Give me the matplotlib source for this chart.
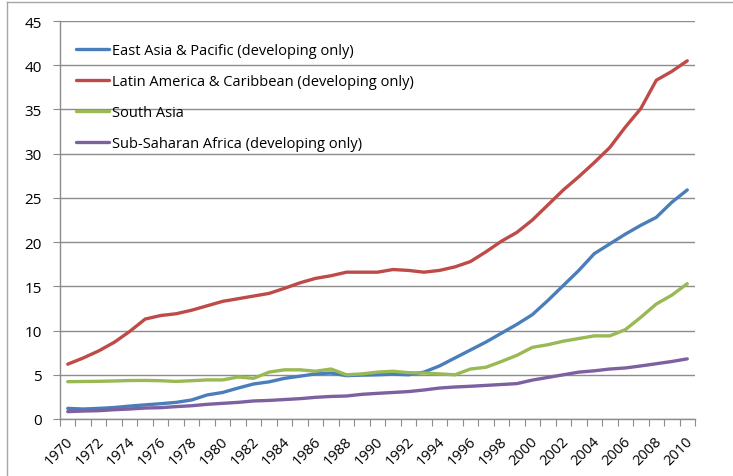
import numpy as np
import matplotlib.pyplot as plt
from matplotlib.lines import Line2D
import matplotlib.transforms as mtransforms

plt.rcParams['font.family'] = ['Open Sans', 'DejaVu Sans']

years = list(range(1970, 2011))

east_asia = [1.2, 1.13, 1.2, 1.3, 1.46, 1.6, 1.73, 1.88, 2.15, 2.72,
             3.0, 3.5, 3.96, 4.2, 4.6, 4.84, 5.1, 5.2, 4.9, 4.96,
             5.0, 5.07, 5.0, 5.3, 6.0, 6.9, 7.8, 8.7, 9.7, 10.7,
             11.8, 13.4, 15.1, 16.8, 18.7, 19.8, 20.9, 21.9, 22.8, 24.5,
             25.9]
latin_america = [6.2, 6.9, 7.7, 8.67, 9.9, 11.3, 11.7, 11.9, 12.3, 12.8,
                 13.3, 13.6, 13.9, 14.2, 14.78, 15.4, 15.9, 16.2, 16.6, 16.6,
                 16.6, 16.9, 16.8, 16.6, 16.8, 17.2, 17.8, 18.9, 20.1, 21.1,
                 22.5, 24.2, 25.9, 27.4, 29.0, 30.7, 33.0, 35.1, 38.3, 39.3,
                 40.5]
south_asia = [4.22, 4.24, 4.26, 4.3, 4.35, 4.36, 4.33, 4.25, 4.33, 4.42,
              4.42, 4.75, 4.6, 5.3, 5.56, 5.56, 5.4, 5.65, 5.0, 5.1,
              5.3, 5.4, 5.24, 5.2, 5.1, 5.0, 5.65, 5.85, 6.5, 7.2,
              8.1, 8.4, 8.8, 9.1, 9.4, 9.4, 10.1, 11.5, 13.0, 14.0,
              15.3]
ssa = [0.83, 0.9, 0.94, 1.05, 1.13, 1.24, 1.28, 1.4, 1.5, 1.66,
       1.77, 1.88, 2.04, 2.1, 2.2, 2.3, 2.45, 2.55, 2.6, 2.79,
       2.9, 3.0, 3.1, 3.28, 3.5, 3.62, 3.7, 3.8, 3.9, 4.0,
       4.4, 4.7, 5.0, 5.3, 5.45, 5.65, 5.77, 6.0, 6.25, 6.5,
       6.8]

series = [
    ("East Asia & Pacific (developing only)", east_asia, "#4A7EBB"),
    ("Latin America & Caribbean (developing only)", latin_america, "#BE4B48"),
    ("South Asia", south_asia, "#98B954"),
    ("Sub-Saharan Africa (developing only)", ssa, "#7D60A0"),
]

W, H = 733, 477
fig = plt.figure(figsize=(W / 100, H / 100), dpi=100)
ax = fig.add_axes([60 / W, (H - 420) / H, 635 / W, 398 / H])

x = np.arange(len(years))
for name, vals, col in series:
    ax.plot(x, vals, color=col, lw=2.4, label=name, solid_capstyle='round')

ax.set_xlim(-0.5, len(years) - 0.5)
ax.set_ylim(0, 45)
ax.set_yticks(range(0, 46, 5))
ax.grid(axis='y', color='#8C8C8C', lw=1)
ax.set_axisbelow(True)

for s in ['top', 'right']:
    ax.spines[s].set_visible(False)
for s in ['left', 'bottom']:
    ax.spines[s].set_color('#8C8C8C')
    ax.spines[s].set_linewidth(1)

ax.tick_params(axis='y', length=5, color='#8C8C8C', pad=8, labelsize=11)

# category axis: tick marks between years, rotated labels every 2 years
ax.set_xticks(np.arange(-0.5, len(years), 1))
ax.set_xticklabels([])
ax.tick_params(axis='x', length=5, color='#8C8C8C')
off = mtransforms.ScaledTranslation(3 / 100, -19.5 / 100, fig.dpi_scale_trans)
trans = ax.get_xaxis_transform() + off
for i in range(0, len(years), 2):
    ax.text(x[i], 0, str(years[i]), transform=trans, rotation=45,
            rotation_mode='anchor', ha='right', va='center', fontsize=10.5)

ax.legend(loc='upper left', bbox_to_anchor=(0.005, 0.978), frameon=False,
          handlelength=2.26, handletextpad=0.2, labelspacing=1.1, fontsize=10.5)

# outer chart border
fig.add_artist(Line2D([7 / W, 7 / W], [0, 1 - 3 / H], color='#A6A6A6', lw=1))
fig.add_artist(Line2D([7 / W, 1], [1 - 3 / H, 1 - 3 / H], color='#A6A6A6', lw=1))

fig.savefig("out.png", dpi=100)
